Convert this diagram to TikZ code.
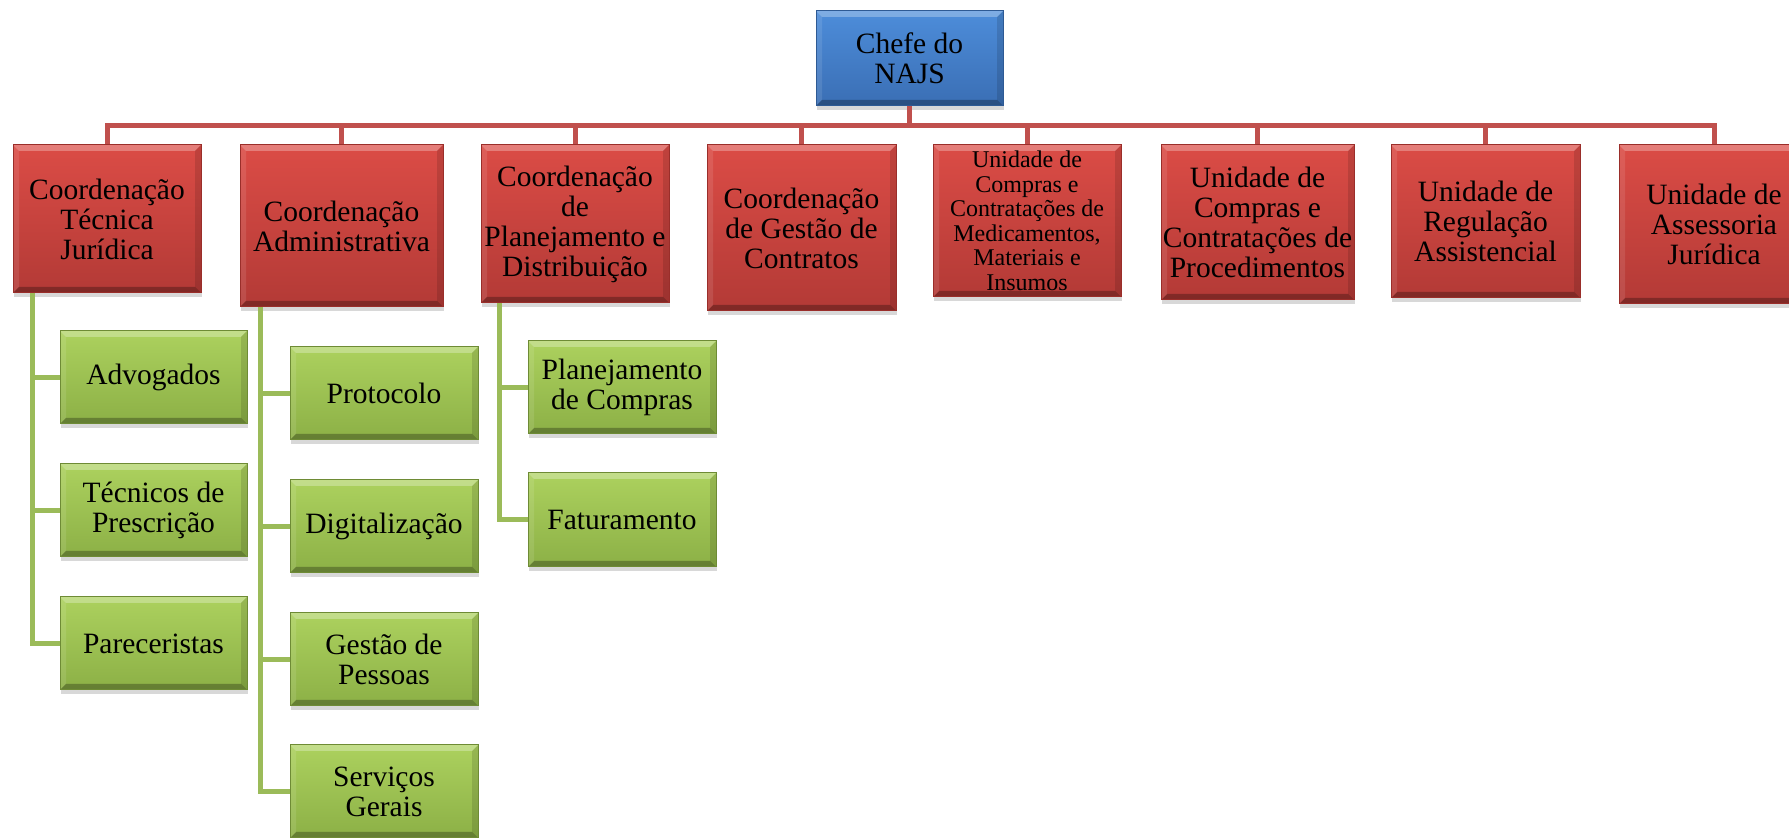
\documentclass[tikz,border=0pt]{standalone}
\usepackage{fontspec}
\setmainfont{Liberation Serif}
\usetikzlibrary{shadows,calc}
\definecolor{rtop}{HTML}{DB4C46}
\definecolor{rbot}{HTML}{B33A36}
\definecolor{rdraw}{HTML}{9A2E2A}
\definecolor{btop}{HTML}{4D8DDA}
\definecolor{bbot}{HTML}{3A6EB4}
\definecolor{bdraw}{HTML}{2E5A94}
\definecolor{gtop}{HTML}{ACD15E}
\definecolor{gbot}{HTML}{8CB046}
\definecolor{gdraw}{HTML}{6E8B35}
\definecolor{rline}{HTML}{C0504D}
\definecolor{gline}{HTML}{9BBB59}
\tikzset{
  bevel/.style={path picture={
    \coordinate (pnw) at (path picture bounding box.north west);
    \coordinate (pne) at (path picture bounding box.north east);
    \coordinate (psw) at (path picture bounding box.south west);
    \coordinate (pse) at (path picture bounding box.south east);
    \fill[white,opacity=.28] (pnw) -- (pne) -- ([xshift=-3pt,yshift=-3pt]pne) -- ([xshift=3pt,yshift=-3pt]pnw) -- cycle;
    \fill[black,opacity=.28] (psw) -- (pse) -- ([xshift=-3pt,yshift=3pt]pse) -- ([xshift=3pt,yshift=3pt]psw) -- cycle;
    \fill[white,opacity=.10] (pnw) -- ([xshift=3pt,yshift=-3pt]pnw) -- ([xshift=3pt,yshift=3pt]psw) -- (psw) -- cycle;
    \fill[black,opacity=.12] (pne) -- ([xshift=-3pt,yshift=-3pt]pne) -- ([xshift=-3pt,yshift=3pt]pse) -- (pse) -- cycle;
  }},
  box/.style={rectangle, inner sep=0pt, align=center, text=black,
    font=\fontsize{14.75pt}{15pt}\selectfont, bevel, line width=0.5pt,
    drop shadow={opacity=0.3, shadow xshift=0.6pt, shadow yshift=-2pt}},
  bluebox/.style={box, top color=btop, bottom color=bbot, draw=bdraw},
  redbox/.style={box, top color=rtop, bottom color=rbot, draw=rdraw, minimum width=94pt},
  greenbox/.style={box, top color=gtop, bottom color=gbot, draw=gdraw, minimum width=93.5pt, minimum height=46.5pt},
  rl/.style={draw=rline, line width=2.5pt},
  gl/.style={draw=gline, line width=2.5pt},
}
\begin{document}
\begin{tikzpicture}[x=0.5pt,y=-0.5pt]
\path[use as bounding box] (0,0) rectangle (1789,838);
\clip (0,0) rectangle (1789,838);
\fill[white] (0,0) rectangle (1789,838);
\coordinate (bus) at (0,126);
\node[bluebox, minimum width=93.5pt, minimum height=47.5pt] (chefe) at (909.5,58.5) {Chefe do\\NAJS};
\node[redbox, minimum height=74pt] (ctj) at (107,219) {Coordenação\\Técnica\\Jurídica};
\node[redbox, minimum width=101.5pt, minimum height=81pt] (adm) at (341.5,226) {Coordenação\\Administrativa};
\node[redbox, minimum height=79pt] (pla) at (575,224) {Coordenação\\de\\Planejamento e\\Distribuição};
\node[redbox, minimum width=94.5pt, minimum height=83pt] (gco) at (801.5,228) {Coordenação\\de Gestão de\\Contratos};
\node[redbox, minimum height=76pt, font=\fontsize{12pt}{12.25pt}\selectfont] (med) at (1027,221) {Unidade de\\Compras e\\Contratações de\\Medicamentos,\\Materiais e\\Insumos};
\node[redbox, minimum width=96.5pt, minimum height=77.5pt] (pro) at (1257.5,222.5) {Unidade de\\Compras e\\Contratações de\\Procedimentos};
\node[redbox, minimum width=94.5pt, minimum height=76.5pt] (reg) at (1485.5,221.5) {Unidade de\\Regulação\\Assistencial};
\node[redbox, minimum width=95pt, minimum height=79.5pt] (ass) at (1714,224.5) {Unidade de\\Assessoria\\Jurídica};
\node[greenbox] (adv) at (153.5,377.5) {Advogados};
\node[greenbox] (tec) at (153.5,510.5) {Técnicos de\\Prescrição};
\node[greenbox] (par) at (153.5,643.5) {Pareceristas};
\node[greenbox, minimum width=94pt] (prot) at (384,393.5) {Protocolo};
\node[greenbox, minimum width=94pt] (dig) at (384,526.5) {Digitalização};
\node[greenbox, minimum width=94pt] (ges) at (384,659.5) {Gestão de\\Pessoas};
\node[greenbox, minimum width=94pt] (ser) at (384,791.5) {Serviços\\Gerais};
\node[greenbox, minimum width=94pt] (plc) at (622,387.5) {Planejamento\\de Compras};
\node[greenbox, minimum width=94pt, minimum height=47pt] (fat) at (622,520) {Faturamento};
\foreach \t in {ctj,adm,pla,gco,med,pro,reg,ass}{
  \draw[rl] (chefe.south) -- (chefe.south|-bus) -| (\t.north);
}
\foreach \t in {adv,tec,par}{
  \draw[gl] ([xshift=10pt]ctj.south west) |- (\t.west);
}
\foreach \t in {prot,dig,ges,ser}{
  \draw[gl] ([xshift=10.5pt]adm.south west) |- (\t.west);
}
\foreach \t in {plc,fat}{
  \draw[gl] ([xshift=9.5pt]pla.south west) |- (\t.west);
}
\end{tikzpicture}
\end{document}
